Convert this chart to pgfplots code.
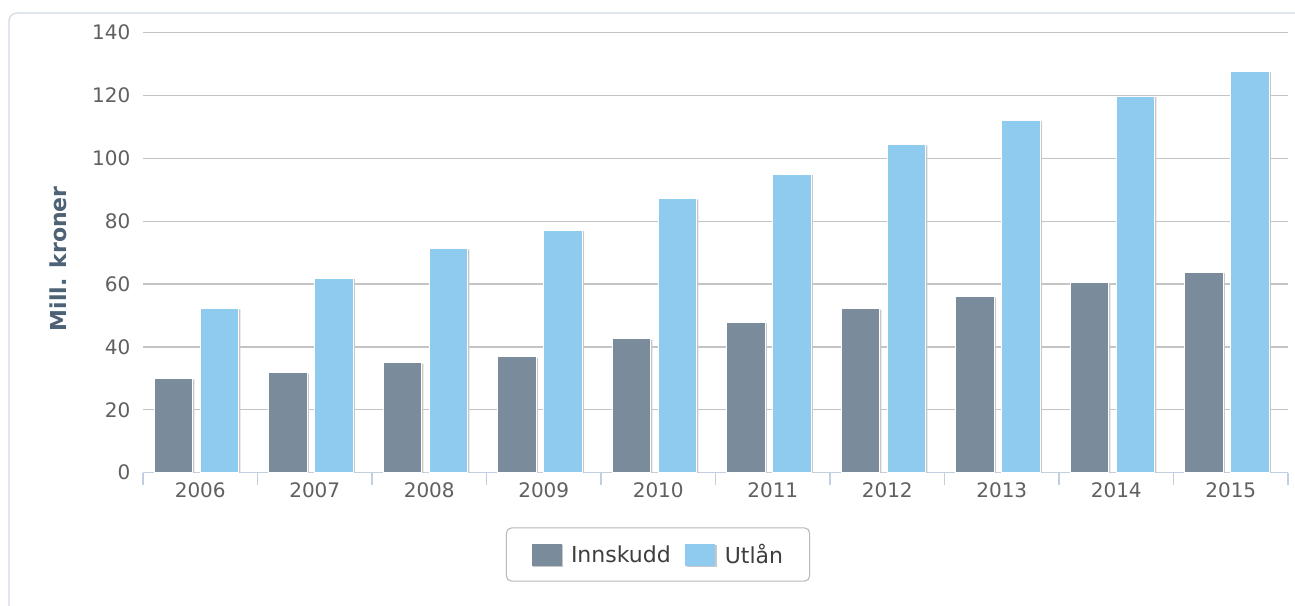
\documentclass[border=0pt]{standalone}
\usepackage{pgfplots}
\pgfplotsset{compat=1.18}
\usepackage{fontspec}
\setmainfont{DejaVu Sans}

\definecolor{innskudd}{HTML}{7A8C9B}
\definecolor{utlan}{HTML}{8FCBEE}
\definecolor{ticktext}{HTML}{606060}
\definecolor{labeltext}{HTML}{4D6275}
\definecolor{legtext}{HTML}{3E3E40}
\definecolor{gridc}{HTML}{C4C4C4}
\definecolor{axisc}{HTML}{C0D0E0}
\definecolor{framec}{HTML}{CFDAE4}

% Innskudd og utlån, mill. kroner
\pgfplotstableread{
x year inn utl
0 2006 30.0 52.3
1 2007 31.8 61.9
2 2008 35.0 71.4
3 2009 36.9 77.2
4 2010 42.6 87.3
5 2011 47.9 95.0
6 2012 52.2 104.5
7 2013 56.0 112.2
8 2014 60.6 119.8
9 2015 63.8 127.8
}\datatable

\begin{document}
\begin{tikzpicture}
\path[use as bounding box] (0,0) rectangle (971.25pt,-454.5pt);
\fill[white] (0,0) rectangle (971.25pt,-454.5pt);
\draw[framec, line width=0.9pt, rounded corners=6pt] (6.75pt,-9.75pt) rectangle (1000pt,-480pt);

\begin{axis}[
    at={(107.25pt,-354.5pt)}, anchor=south west,
    scale only axis,
    width=858.75pt, height=330pt,
    xmin=-0.5, xmax=9.5,
    ymin=0, ymax=140,
    ytick={0,20,...,140},
    xtick={0,...,9},
    xticklabels={2006,2007,2008,2009,2010,2011,2012,2013,2014,2015},
    minor xtick={-0.5,0.5,...,9.5},
    major tick length=0pt,
    minor tick length=9pt,
    tick align=outside,
    minor tick style={axisc, line width=0.9pt},
    axis x line*=bottom,
    axis y line*=left,
    x axis line style={axisc, line width=1pt, -},
    y axis line style={draw=none},
    ymajorgrids,
    major grid style={gridc, line width=1pt},
    /pgf/number format/assume math mode=true,
    ticklabel style={font=\fontsize{15}{18}\selectfont, text=ticktext},
    xticklabel style={anchor=north, yshift=-4pt},
    yticklabel style={anchor=east, xshift=-6pt},
    ylabel={Mill. kroner},
    ylabel style={at={(axis description cs:-0.0742,0.486)}, anchor=center,
        font=\bfseries\fontsize{16.5}{19}\selectfont, text=labeltext},
    legend style={at={(0.4498,-0.186)}, anchor=center,
        draw=gray!55, line width=0.8pt, rounded corners=4pt,
        font=\fontsize{16.5}{20}\selectfont, text=legtext,
        inner xsep=19pt, inner ysep=11pt,
        nodes={inner sep=1pt},
        /tikz/every odd column/.append style={column sep=6pt},
        /tikz/every even column/.append style={column sep=10pt}},
    legend columns=-1,
    legend image code/.code={\fill[#1, draw=none, sharp corners] (0pt,-8.25pt) rectangle (22.5pt,8.25pt);},
    every axis plot/.append style={
        ybar, bar width=0.336, draw=white, line width=0.8pt,
        preaction={fill=black!22, draw=none, transform canvas={xshift=1.2pt, yshift=-0.8pt}}},
]
\addplot[fill=innskudd, bar shift=-0.233] table[x=x, y=inn] {\datatable};
\addplot[fill=utlan, bar shift=0.168] table[x=x, y=utl] {\datatable};
\legend{Innskudd\strut, Utlån\strut}
\end{axis}
\end{tikzpicture}
\end{document}
